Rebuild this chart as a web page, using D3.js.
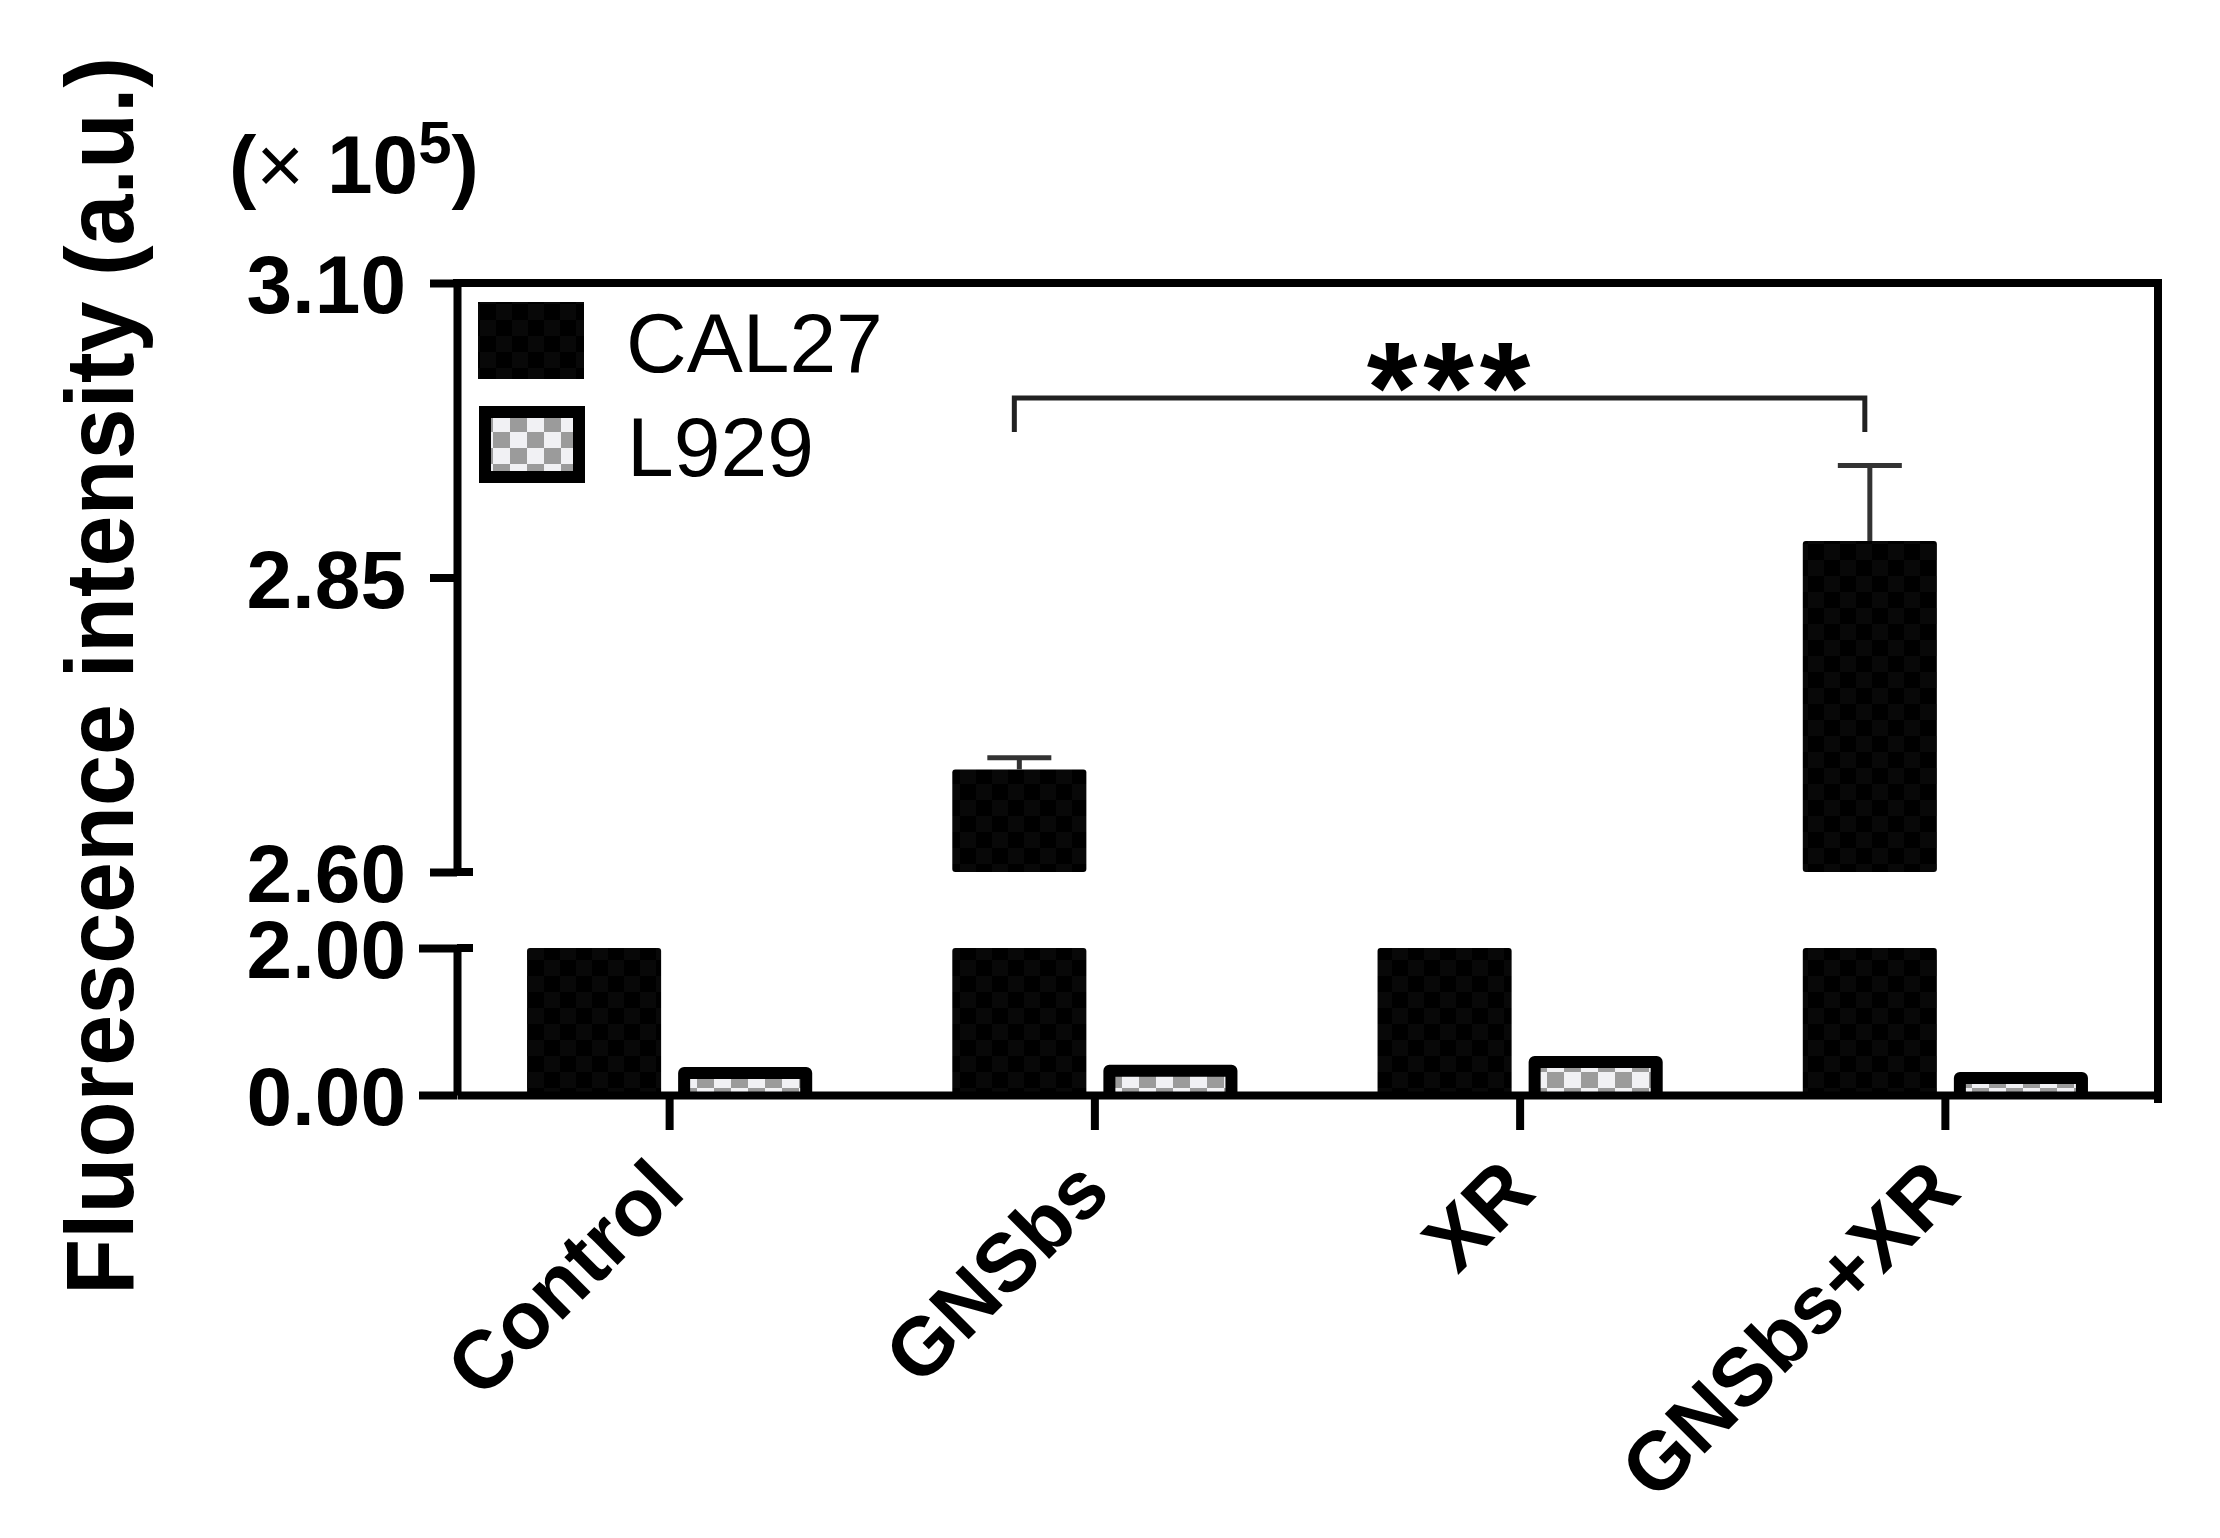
<!DOCTYPE html>
<html>
<head>
<meta charset="utf-8">
<script src="https://cdn.jsdelivr.net/npm/d3@7"></script>
<style>
  body { margin: 0; background: #fff; }
  text { font-family: "Liberation Sans", Arial, sans-serif; fill: #000; }
</style>
</head>
<body>
<script>
var width = 2220,
    height = 1538;

// groups and series
var groups = ['Control', 'GNSbs', 'XR', 'GNSbs+XR'];
var series = ['CAL27', 'L929'];

// values in units of 1e5 a.u.
// Control and XR CAL27 fall inside the axis break (2.00 - 2.60), so they are cut at 2.00
var cal27 = [2.45, 2.687, 2.45, 2.881];
var cal27Err = [0.02, 0.010, 0.02, 0.064];
var l929 = [0.30, 0.33, 0.45, 0.23];

var lowerTicks = [0.00, 2.00];
var upperTicks = [2.60, 2.85, 3.10];
var breakLow = 2.00, breakHigh = 2.60;

var axisX = 457,
    plotRight = 2158,
    baseY = 1095;

var svg = d3.select('body').append('svg')
    .attr('width', width)
    .attr('height', height);

var defs = svg.append('defs');

// dark checker for CAL27 (almost black)
var pBlack = defs.append('pattern')
    .attr('id', 'chkBlack')
    .attr('patternUnits', 'userSpaceOnUse')
    .attr('width', 32).attr('height', 32);
pBlack.append('rect').attr('width', 32).attr('height', 32).attr('fill', '#000');
pBlack.append('rect').attr('width', 16).attr('height', 16).attr('fill', '#080808');
pBlack.append('rect').attr('x', 16).attr('y', 16).attr('width', 16).attr('height', 16).attr('fill', '#080808');

// grey checker for L929
var pGrey = defs.append('pattern')
    .attr('id', 'chkGrey')
    .attr('patternUnits', 'userSpaceOnUse')
    .attr('width', 34).attr('height', 32);
pGrey.append('rect').attr('width', 34).attr('height', 32).attr('fill', '#f1f1f4');
pGrey.append('rect').attr('x', 0).attr('y', 0).attr('width', 17).attr('height', 16).attr('fill', '#9b9b9b');
pGrey.append('rect').attr('x', 17).attr('y', 16).attr('width', 17).attr('height', 16).attr('fill', '#9b9b9b');

// scales
var yLow = d3.scaleLinear().domain([0, breakLow]).range([baseY, 948]);
var yUp = d3.scaleLinear().domain([breakHigh, 3.10]).range([872, 283]);

var x0 = d3.scaleBand().domain(groups).range([axisX, plotRight]).padding(0);
var x1 = d3.scaleBand().domain(series).range([0, x0.bandwidth()])
    .paddingInner(0.1126).paddingOuter(0.4636);

var bw = x1.bandwidth();

// CAL27 bars (lower and upper segments)
var gBars = svg.append('g');

groups.forEach(function(g, i) {
  var v = cal27[i];
  var bx = x0(g) + x1('CAL27');

  gBars.append('rect')
    .attr('x', bx).attr('width', bw)
    .attr('y', yLow(Math.min(v, breakLow)))
    .attr('height', yLow(0) - yLow(Math.min(v, breakLow)))
    .attr('rx', 3)
    .attr('fill', 'url(#chkBlack)');

  if (v > breakHigh) {
    var top = yUp(v);
    gBars.append('rect')
      .attr('x', bx).attr('width', bw)
      .attr('y', top)
      .attr('height', yUp(breakHigh) - top)
      .attr('rx', 3)
      .attr('fill', 'url(#chkBlack)');

    // error bar (upper only)
    var cx = bx + bw / 2,
        ey = yUp(v + cal27Err[i]);
    gBars.append('line')
      .attr('x1', cx).attr('x2', cx)
      .attr('y1', top).attr('y2', ey)
      .attr('stroke', '#333').attr('stroke-width', 5);
    gBars.append('line')
      .attr('x1', cx - 32).attr('x2', cx + 32)
      .attr('y1', ey).attr('y2', ey)
      .attr('stroke', '#333').attr('stroke-width', 5);
  }
});

// L929 bars: checker fill, thick outline on top and sides only
groups.forEach(function(g, i) {
  var bx = x0(g) + x1('L929');
  var top = yLow(l929[i]);
  var l = bx + 6, r = bx + bw - 6, b = yLow(0);
  gBars.append('rect')
    .attr('x', l).attr('width', r - l)
    .attr('y', top).attr('height', b - top)
    .attr('fill', 'url(#chkGrey)');
  gBars.append('path')
    .attr('d', 'M' + l + ',' + b + 'V' + top + 'H' + r + 'V' + b)
    .attr('fill', 'none')
    .attr('stroke', '#000')
    .attr('stroke-width', 12)
    .attr('stroke-linejoin', 'round');
});

// frame (top + right)
svg.append('path')
    .attr('d', 'M' + axisX + ',' + yUp(3.10) + 'H' + plotRight + 'V' + (baseY + 4))
    .attr('fill', 'none')
    .attr('stroke', '#000')
    .attr('stroke-width', 8)
    .attr('stroke-linecap', 'square');

// y axes (two segments)
function styleAxis(sel) {
  sel.selectAll('path, line')
    .attr('stroke', '#000')
    .attr('stroke-width', 8);
  sel.selectAll('text')
    .attr('font-size', 82)
    .attr('font-weight', 'bold')
    .attr('dy', '0.36em')
    .attr('fill', '#000');
}

svg.append('g')
    .attr('transform', 'translate(' + axisX + ',0)')
    .call(d3.axisLeft(yUp).tickValues(upperTicks).tickSize(27).tickSizeOuter(0)
      .tickPadding(24).tickFormat(d3.format('.2f')))
    .call(styleAxis);

svg.append('g')
    .attr('transform', 'translate(' + axisX + ',0)')
    .call(d3.axisLeft(yLow).tickValues(lowerTicks).tickSize(38).tickSizeOuter(0)
      .tickPadding(13).tickFormat(d3.format('.2f')))
    .call(styleAxis);

// break caps
[yUp(breakHigh), yLow(breakLow)].forEach(function(y) {
  svg.append('line')
    .attr('x1', axisX).attr('x2', axisX + 16)
    .attr('y1', y).attr('y2', y)
    .attr('stroke', '#000').attr('stroke-width', 8);
});

// x axis
var xAxis = svg.append('g')
    .attr('transform', 'translate(0,' + baseY + ')')
    .call(d3.axisBottom(x0).tickSize(35).tickSizeOuter(0).tickFormat(''));
xAxis.selectAll('path, line').attr('stroke', '#000').attr('stroke-width', 8);

svg.append('g').selectAll('text')
    .data(groups)
    .join('text')
    .attr('transform', function(d) {
      return 'translate(' + (x0(d) + x0.bandwidth() / 2 + 18) + ',' + (baseY + 100) + ') rotate(-45)';
    })
    .attr('text-anchor', 'end')
    .attr('font-size', 82)
    .attr('font-weight', 'bold')
    .text(function(d) { return d; });

// y title
svg.append('text')
    .attr('transform', 'translate(133,676) rotate(-90)')
    .attr('text-anchor', 'middle')
    .attr('font-size', 96)
    .attr('font-weight', 'bold')
    .attr('textLength', 1238)
    .attr('lengthAdjust', 'spacingAndGlyphs')
    .text('Fluorescence intensity (a.u.)');

// multiplier
var mult = svg.append('text')
    .attr('x', 229).attr('y', 193)
    .attr('font-size', 82)
    .attr('font-weight', 'bold');
mult.append('tspan').text('(');
mult.append('tspan').attr('font-weight', 'normal').text('\u00d7 ');
mult.append('tspan').text('10');
mult.append('tspan').attr('font-size', 60).attr('dy', -30).text('5');
mult.append('tspan').attr('dy', 30).text(')');

// significance bracket
var bL = x0('GNSbs') + x1('CAL27') + bw / 2 - 5,
    bR = x0('GNSbs+XR') + x1('CAL27') + bw / 2 - 5,
    bY = 398;
svg.append('path')
    .attr('d', 'M' + bL + ',432V' + bY + 'H' + bR + 'V432')
    .attr('fill', 'none')
    .attr('stroke', '#222')
    .attr('stroke-width', 5);
svg.append('text')
    .attr('x', (bL + bR) / 2 + 12)
    .attr('y', 433)
    .attr('text-anchor', 'middle')
    .attr('font-size', 130)
    .attr('font-weight', 'bold')
    .attr('letter-spacing', 6)
    .text('***');

// legend
var legend = [
  { name: 'CAL27', x: 478, y: 302, fill: 'url(#chkBlack)', stroke: 0 },
  { name: 'L929', x: 479, y: 406, fill: 'url(#chkGrey)', stroke: 12 }
];
legend.forEach(function(l) {
  svg.append('rect')
    .attr('x', l.x + l.stroke / 2).attr('y', l.y + l.stroke / 2)
    .attr('width', 106 - l.stroke).attr('height', 77 - l.stroke)
    .attr('fill', l.fill)
    .attr('stroke', l.stroke ? '#000' : 'none')
    .attr('stroke-width', l.stroke);
  svg.append('text')
    .attr('x', l.x + 148).attr('y', l.y + 70)
    .attr('font-size', 84)
    .text(l.name);
});
</script>
</body>
</html>
